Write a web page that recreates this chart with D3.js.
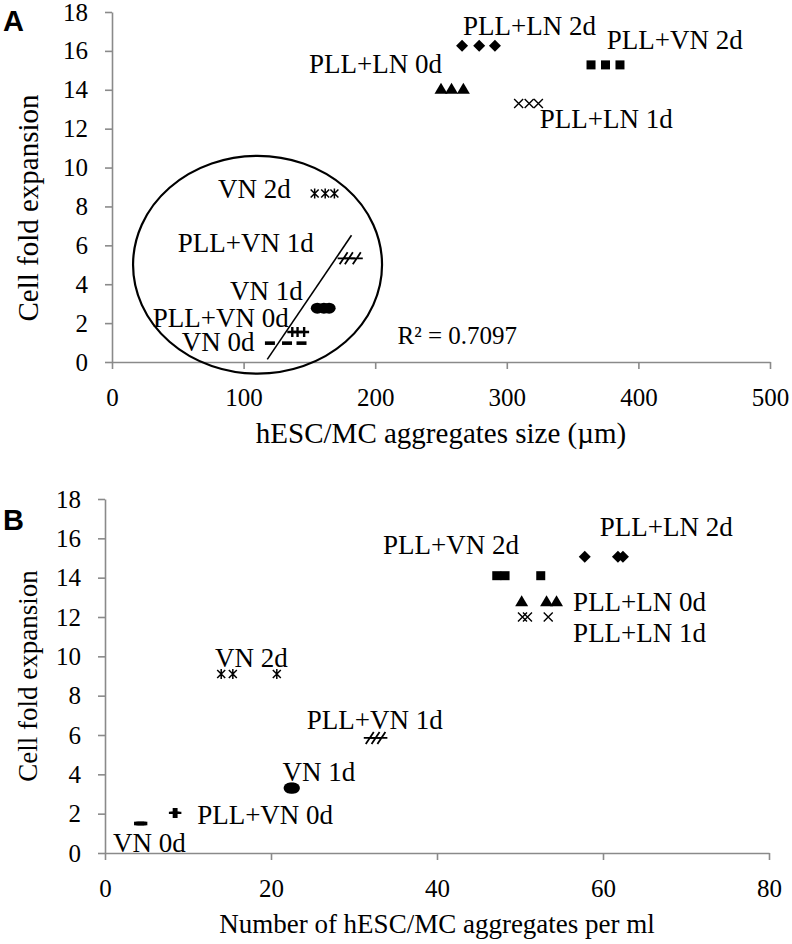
<!DOCTYPE html>
<html>
<head>
<meta charset="utf-8">
<script src="https://cdn.jsdelivr.net/npm/d3@7"></script>
<style>
  body { margin: 0; background: #fff; }
  svg { display: block; font-family: "Liberation Serif", "Times New Roman", serif; }
  svg text { font-family: "Liberation Serif", "Times New Roman", serif; }
  svg text.letter { font-family: "Liberation Sans", Arial, sans-serif; font-weight: bold; }
</style>
</head>
<body>
<svg id="chart" width="792" height="944"></svg>
<script>
// groups, same order in both panels
const groups = ["VN 0d", "PLL+VN 0d", "VN 1d", "PLL+VN 1d", "VN 2d", "PLL+LN 0d", "PLL+LN 1d", "PLL+LN 2d", "PLL+VN 2d"]

// panel A: aggregate size (um) vs fold expansion, three replicates per group
const sizeA = [[120, 133, 144], [137, 141, 146], [156, 161, 165], [176, 180, 186], [154, 162, 169], [250, 258, 267], [309, 317, 324], [266, 279, 291], [364, 375, 386]]
const foldA = [0.97, 1.54, 2.77, 5.33, 8.67, 14.05, 13.3, 16.26, 15.28]

// panel B: aggregates per ml vs fold expansion
const perMlB = [[4.1, 4.3, 4.5], [8.3, 8.4, 8.6], [22.3, 22.5, 22.7], [31.9, 32.6, 33.3], [14.0, 15.4, 20.7], [50.2, 53.2, 54.4], [50.3, 50.9, 53.4], [57.8, 61.8, 62.4], [47.2, 48.2, 52.5]]
const foldB = [1.5, 2.04, 3.3, 5.85, 9.1, 12.8, 12.0, 15.06, 14.1]

const yTicks = [0, 2, 4, 6, 8, 10, 12, 14, 16, 18]
const xTicksA = [0, 100, 200, 300, 400, 500]
const xTicksB = [0, 20, 40, 60, 80]
const rSquaredText = "R² = 0.7097"

// where the group labels sit, in data units (left edge, middle)
const labelAtA = [[53, 1.03], [31, 2.31], [89.6, 3.69], [50, 6.15], [80.5, 8.92], [149.7, 15.33], [325, 12.5], [266.7, 17.28], [376, 16.6]]
const labelAtB = [[0.96, 0.51], [11.1, 1.93], [21.4, 4.12], [24.3, 6.77], [13.25, 9.92], [56.4, 12.77], [56.4, 11.2], [59.6, 16.6], [33.5, 15.67]]

const svg = d3.select("#chart")
const axisGrey = "#8a8a8a"

// one marker shape per group
const markers = {
  "VN 0d": (g) => g.append("rect").attr("x", -5).attr("y", -1.8).attr("width", 10).attr("height", 3.6),
  "PLL+VN 0d": (g) => g.append("path").attr("d", "M-5,0H5M0,-5V5").attr("stroke", "#000").attr("stroke-width", 2.4),
  "VN 1d": (g) => g.append("ellipse").attr("rx", 6.5).attr("ry", 5.5),
  "PLL+VN 1d": (g) => g.append("path").attr("d", "M-6,0H6M-4,6L4,-6").attr("stroke", "#000").attr("stroke-width", 1.8),
  "VN 2d": (g) => g.append("path").attr("d", "M-4,-4L4,4M-4,4L4,-4M0,-5V5").attr("stroke", "#000").attr("stroke-width", 1.5),
  "PLL+LN 0d": (g) => g.append("path").attr("d", "M0,-6L6.5,5L-6.5,5Z"),
  "PLL+LN 1d": (g) => g.append("path").attr("d", "M-4.5,-4.5L4.5,4.5M-4.5,4.5L4.5,-4.5").attr("stroke", "#000").attr("stroke-width", 1.4),
  "PLL+LN 2d": (g) => g.append("path").attr("d", "M0,-6L6,0L0,6L-6,0Z"),
  "PLL+VN 2d": (g) => g.append("rect").attr("x", -4.5).attr("y", -4.5).attr("width", 9).attr("height", 9),
}

const drawPanel = (p) => {
  const x = d3.scaleLinear().domain(d3.extent(p.xTicks)).range(p.xRange)
  const y = d3.scaleLinear().domain([0, 18]).range(p.yRange)
  const root = svg.append("g")

  // y axis
  root.append("g")
    .attr("transform", `translate(${p.xRange[0]},0)`)
    .call(d3.axisLeft(y).tickValues(yTicks).tickSize(7).tickSizeOuter(0).tickPadding(17))
    .attr("font-family", null)
    .attr("font-size", 25)
    .call((g) => g.select(".domain").attr("stroke", axisGrey).attr("stroke-width", 1.6))
    .call((g) => g.selectAll(".tick line").attr("stroke", axisGrey).attr("stroke-width", 1.6))
    .call((g) => g.selectAll("text").attr("fill", "#000"))

  // x axis
  root.append("g")
    .attr("transform", `translate(0,${p.yRange[0]})`)
    .call(d3.axisBottom(x).tickValues(p.xTicks).tickSize(7).tickSizeOuter(0))
    .attr("font-family", null)
    .attr("font-size", 25)
    .call((g) => g.select(".domain").attr("stroke", axisGrey).attr("stroke-width", 1.6))
    .call((g) => g.selectAll(".tick line").attr("stroke", axisGrey).attr("stroke-width", 1.6))
    .call((g) => g.selectAll("text").attr("fill", "#000").attr("y", 35).attr("dy", "0.35em"))

  // titles
  root.append("text")
    .attr("x", (p.xRange[0] + p.xRange[1]) / 2)
    .attr("y", p.yRange[0] + 71)
    .attr("dy", "0.35em")
    .attr("text-anchor", "middle")
    .attr("font-size", p.titleSize)
    .text(p.xTitle)
  root.append("text")
    .attr("transform", `translate(28,${p.yTitleY}) rotate(-90)`)
    .attr("dy", "0.35em")
    .attr("text-anchor", "middle")
    .attr("font-size", p.titleSize)
    .text("Cell fold expansion")
  root.append("text")
    .attr("class", "letter")
    .attr("x", 3)
    .attr("y", p.letterY)
    .attr("font-size", 29)
    .text(p.letter)

  // points
  groups.forEach((name, i) => {
    p.xs[i].forEach((v) => {
      const m = root.append("g").attr("transform", `translate(${x(v)},${y(p.ys[i])})`)
      markers[name](m)
    })
  })

  // group labels
  root.selectAll(".lab")
    .data(groups)
    .join("text")
    .attr("class", "lab")
    .attr("x", (d, i) => x(p.labels[i][0]))
    .attr("y", (d, i) => y(p.labels[i][1]))
    .attr("dy", "0.35em")
    .attr("font-size", 27)
    .text((d) => d)

  if (p.extras) p.extras(root, x, y)
}

drawPanel({
  xTicks: xTicksA,
  xRange: [112, 770],
  yRange: [362, 12],
  xs: sizeA,
  ys: foldA,
  labels: labelAtA,
  xTitle: "hESC/MC aggregates size (µm)",
  titleSize: 29,
  yTitleY: 208,
  letter: "A",
  letterY: 31,
  extras: (root, x, y) => {
    // linear trend over the circled groups (first five)
    const pts = []
    for (let i = 0; i < 5; i++) sizeA[i].forEach((v) => pts.push([v, foldA[i]]))
    const mx = d3.mean(pts, (d) => d[0])
    const my = d3.mean(pts, (d) => d[1])
    const slope = d3.sum(pts, (d) => (d[0] - mx) * (d[1] - my)) / d3.sum(pts, (d) => (d[0] - mx) ** 2)
    const x0 = d3.min(pts, (d) => d[0]) - 2
    const x1 = d3.max(pts, (d) => d[0]) - 4
    root.append("line")
      .attr("x1", x(x0)).attr("y1", y(my + slope * (x0 - mx)))
      .attr("x2", x(x1)).attr("y2", y(my + slope * (x1 - mx)))
      .attr("stroke", "#000").attr("stroke-width", 1.6)

    // hand drawn ring around the low group
    const cx = 110.6
    const cy = 5.0
    root.append("ellipse")
      .attr("cx", x(cx)).attr("cy", y(cy))
      .attr("rx", x(cx + 94.6) - x(cx)).attr("ry", y(cy) - y(cy + 5.6))
      .attr("fill", "none").attr("stroke", "#000").attr("stroke-width", 2.2)

    root.append("text")
      .attr("x", x(217)).attr("y", y(1.37))
      .attr("dy", "0.35em")
      .attr("font-size", 25)
      .text(rSquaredText)
  },
})

drawPanel({
  xTicks: xTicksB,
  xRange: [105, 769],
  yRange: [853, 499],
  xs: perMlB,
  ys: foldB,
  labels: labelAtB,
  xTitle: "Number of hESC/MC aggregates per ml",
  titleSize: 27,
  yTitleY: 676,
  letter: "B",
  letterY: 530,
})
</script>
</body>
</html>
